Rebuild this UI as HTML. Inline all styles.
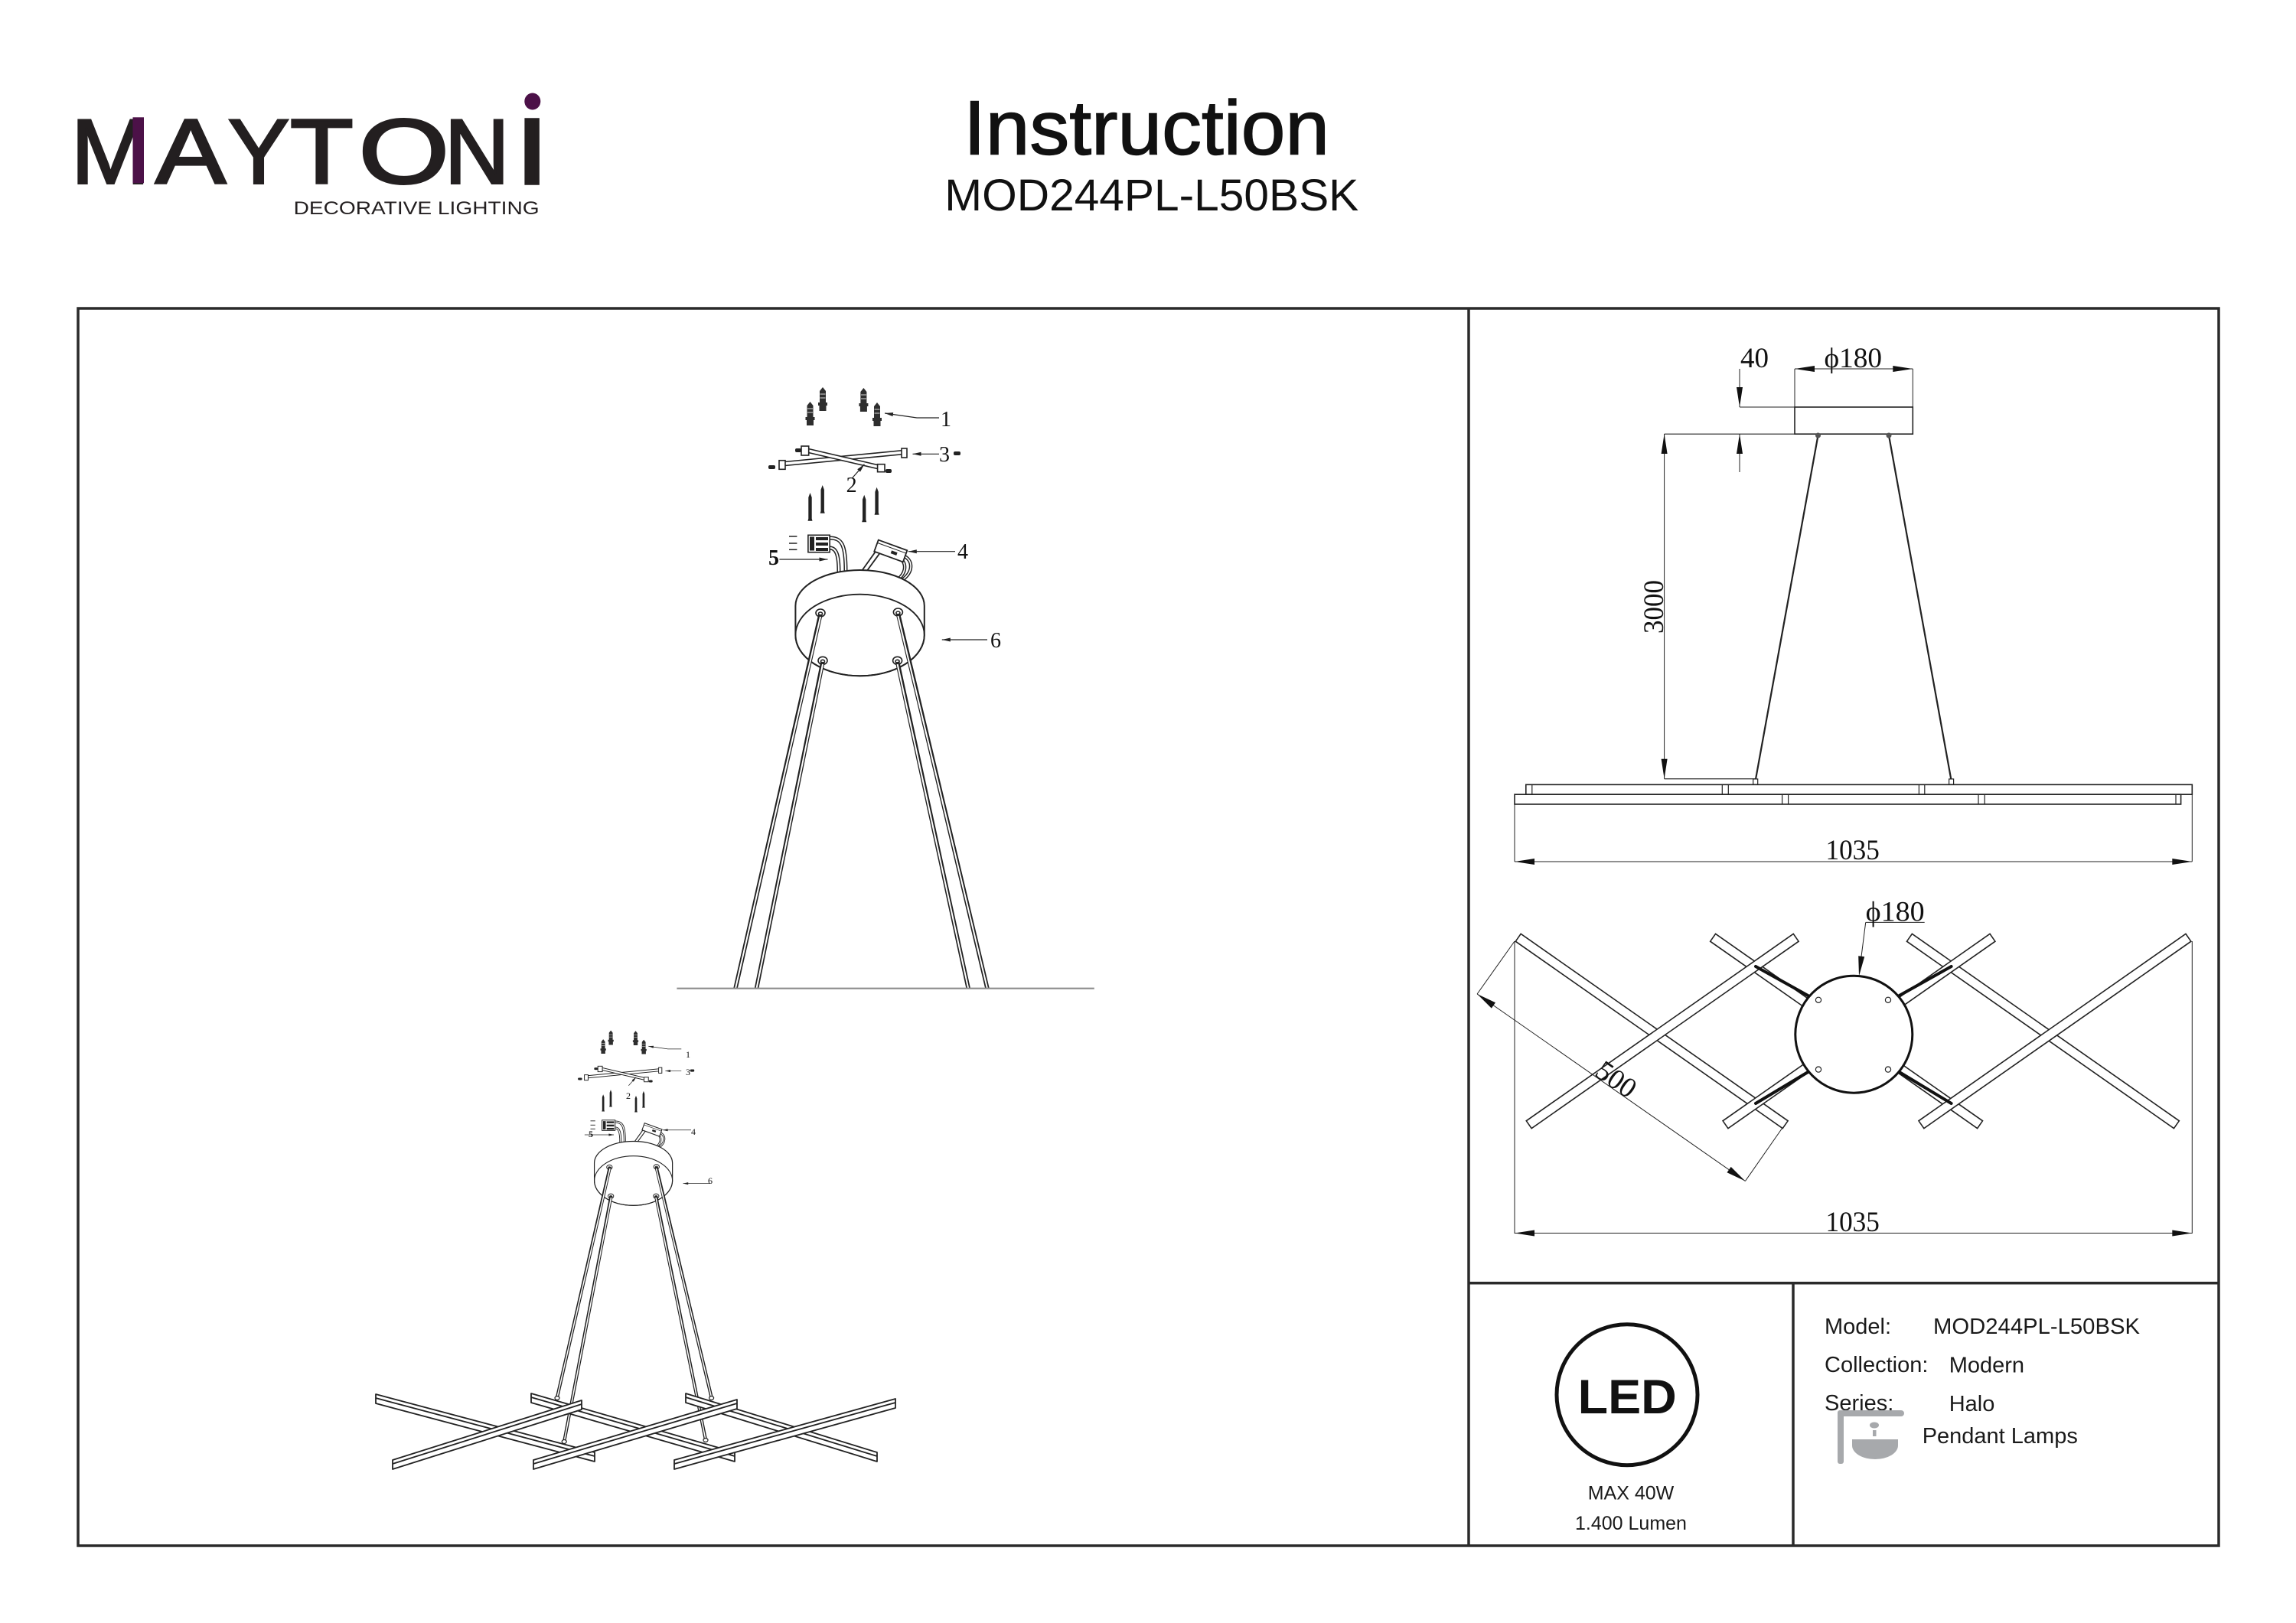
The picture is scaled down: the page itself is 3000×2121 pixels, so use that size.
<!DOCTYPE html>
<html>
<head>
<meta charset="utf-8">
<style>
html,body{margin:0;padding:0;background:#fff;}
svg{display:block;}
</style>
</head>
<body>
<svg xmlns="http://www.w3.org/2000/svg" width="3000" height="2121" viewBox="0 0 3000 2121">
<rect x="0" y="0" width="3000" height="2121" fill="#fff"/>

<!-- ============ HEADER / LOGO ============ -->
<g font-family="'Liberation Sans', Arial, sans-serif" fill="#231f20" stroke="#231f20" stroke-width="3" font-size="120">
  <text transform="translate(144.2,239.3) scale(1.03,1)" text-anchor="middle">M</text>
  <text transform="translate(249.1,239.3) scale(1.15,1)" text-anchor="middle">A</text>
  <text transform="translate(338,239.3) scale(1.0,1)" text-anchor="middle">Y</text>
  <text transform="translate(420.4,239.3) scale(1.13,1)" text-anchor="middle">T</text>
  <text transform="translate(527.8,239.3) scale(1.27,1)" text-anchor="middle">O</text>
  <text transform="translate(623.2,239.3) scale(0.98,1)" text-anchor="middle">N</text>
  <text transform="translate(695.1,239.3) scale(1.2,1)" text-anchor="middle" stroke-width="5">I</text>
</g>
<rect x="173.5" y="153.3" width="14.5" height="86" fill="#4c1148"/>
<ellipse cx="695.8" cy="132.5" rx="10.5" ry="11" fill="#4c1148"/>
<text x="383.6" y="280" font-family="'Liberation Sans', Arial, sans-serif" font-size="24" fill="#231f20" textLength="321" lengthAdjust="spacingAndGlyphs">DECORATIVE LIGHTING</text>

<text x="1498" y="201.7" text-anchor="middle" font-family="'Liberation Sans', Arial, sans-serif" font-size="100" fill="#111" stroke="#111" stroke-width="1.5" textLength="478" lengthAdjust="spacingAndGlyphs">Instruction</text>
<text x="1504.8" y="275" text-anchor="middle" font-family="'Liberation Sans', Arial, sans-serif" font-size="58" fill="#111" textLength="541" lengthAdjust="spacingAndGlyphs">MOD244PL-L50BSK</text>

<!-- ============ FRAME ============ -->
<g stroke="#2a2a2a" stroke-width="3.5" fill="none">
  <rect x="102" y="403" width="2797" height="1617"/>
  <line x1="1919" y1="403" x2="1919" y2="2020"/>
  <line x1="1919" y1="1676.7" x2="2899" y2="1676.7"/>
  <line x1="2343" y1="1676.7" x2="2343" y2="2020"/>
</g>

<!-- ============ ASSEMBLY (top-left) ============ -->
<defs>
<g id="assy">
  <!-- wall anchors -->
  <g fill="#2e2e2e">
    <path d="M1058.5 525 L1062.5 530 L1062.5 545 L1064.5 545 L1064.5 549 L1063 549 L1063 556 L1054 556 L1054 549 L1052.5 549 L1052.5 545 L1054.5 545 L1054.5 530 Z"/>
    <path d="M1075 506 L1079 511 L1079 526 L1081 526 L1081 530 L1079.5 530 L1079.5 537 L1070.5 537 L1070.5 530 L1069 530 L1069 526 L1071 526 L1071 511 Z"/>
    <path d="M1128.4 507 L1132.4 512 L1132.4 527 L1134.4 527 L1134.4 531 L1132.9 531 L1132.9 538 L1123.9 538 L1123.9 531 L1122.4 531 L1122.4 527 L1124.4 527 L1124.4 512 Z"/>
    <path d="M1146 526 L1150 531 L1150 546 L1152 546 L1152 550 L1150.5 550 L1150.5 557 L1141.5 557 L1141.5 550 L1140 550 L1140 546 L1142 546 L1142 531 Z"/>
  </g>
  <g stroke="#fff" stroke-width="0.8">
    <line x1="1055" y1="534" x2="1062" y2="534"/><line x1="1055" y1="539" x2="1062" y2="539"/>
    <line x1="1071.5" y1="515" x2="1078.5" y2="515"/><line x1="1071.5" y1="520" x2="1078.5" y2="520"/>
    <line x1="1125" y1="516" x2="1132" y2="516"/><line x1="1125" y1="521" x2="1132" y2="521"/>
    <line x1="1142.5" y1="535" x2="1149.5" y2="535"/><line x1="1142.5" y1="540" x2="1149.5" y2="540"/>
  </g>
  <!-- bracket -->
  <g stroke="#222" stroke-width="1.6" fill="#fff">
    <polygon points="1020,604 1181,588.5 1181,593.5 1020,609"/>
    <polygon points="1050,585 1155,609.5 1155,614.5 1050,590"/>
    <rect x="1018" y="601.7" width="8" height="11.6"/>
    <rect x="1178" y="586" width="7" height="12"/>
    <rect x="1047" y="583" width="9.7" height="12"/>
    <rect x="1146.6" y="606.7" width="9.4" height="10"/>
  </g>
  <g fill="#222">
    <rect x="1004" y="608" width="9" height="5" rx="2"/>
    <rect x="1039" y="586" width="8" height="5" rx="2"/>
    <rect x="1157" y="613" width="8" height="5" rx="2"/>
    <rect x="1246" y="590" width="9" height="5" rx="2"/>
    <circle cx="1022" cy="607" r="1.3" fill="#fff"/>
  </g>
  <!-- long screws -->
  <g fill="#222">
    <polygon points="1058.5,644 1060.7,650 1060.7,677.7 1061.5,680.7 1055.5,680.7 1056.3,677.7 1056.3,650"/>
    <polygon points="1074.7,634 1076.9,640 1076.9,667.7 1077.7,670.7 1071.7,670.7 1072.5,667.7 1072.5,640"/>
    <polygon points="1129.2,646.7 1131.4,652.7 1131.4,679.3 1132.2,682.3 1126.2,682.3 1127,679.3 1127,652.7"/>
    <polygon points="1145.6,636.7 1147.8,642.7 1147.8,669.7 1148.6,672.7 1142.6,672.7 1143.4,669.7 1143.4,642.7"/>
  </g>
  <!-- connector 5 -->
  <g stroke="#222" stroke-width="1.5">
    <line x1="1031" y1="701" x2="1041.4" y2="701"/>
    <line x1="1031" y1="710" x2="1041.4" y2="710"/>
    <line x1="1031" y1="718.3" x2="1041.4" y2="718.3"/>
  </g>
  <g fill="none" stroke-linecap="round">
    <path d="M1084 703 C1100 703 1105 712 1105 746" stroke="#222" stroke-width="5"/>
    <path d="M1084 703 C1100 703 1105 712 1105 746" stroke="#fff" stroke-width="2"/>
    <path d="M1084 716 C1093 716 1096 726 1096 747" stroke="#222" stroke-width="5"/>
    <path d="M1084 716 C1093 716 1096 726 1096 747" stroke="#fff" stroke-width="2"/>
  </g>
  <rect x="1055.9" y="699.3" width="28.3" height="22.4" fill="#fff" stroke="#222" stroke-width="1.6"/>
  <g fill="#222">
    <rect x="1058" y="701.5" width="6" height="18"/>
    <rect x="1066" y="702" width="16" height="4"/>
    <rect x="1066" y="709" width="16" height="4"/>
    <rect x="1066" y="716" width="16" height="4"/>
  </g>
  <!-- terminal 4 -->
  <path d="M1146 718 L1126 746 M1151 721 L1132 747" stroke="#222" stroke-width="1.8" fill="none"/>
  <g fill="none" stroke-linecap="round">
    <path d="M1182 727 C1194 734 1192 748 1180 757" stroke="#222" stroke-width="4.5"/>
    <path d="M1182 727 C1194 734 1192 748 1180 757" stroke="#fff" stroke-width="1.6"/>
    <path d="M1176 729 C1186 738 1183 750 1172 758" stroke="#222" stroke-width="4.5"/>
    <path d="M1176 729 C1186 738 1183 750 1172 758" stroke="#fff" stroke-width="1.6"/>
  </g>
  <g transform="translate(1163.8,720) rotate(20)">
    <rect x="-20" y="-8" width="40" height="16" fill="#fff" stroke="#222" stroke-width="1.8"/>
    <line x1="-20" y1="-4" x2="20" y2="-4" stroke="#222" stroke-width="1"/>
    <rect x="1" y="-1" width="8" height="4" fill="#222"/>
  </g>
  <!-- canopy -->
  <path d="M1039.4 791.7 A84.2 46.7 0 0 1 1207.8 791.7 L1207.8 830 A84.2 53.3 0 0 1 1039.4 830 Z" fill="#fff" stroke="#222" stroke-width="2"/>
  <ellipse cx="1123.6" cy="830" rx="84.2" ry="53.3" fill="none" stroke="#222" stroke-width="1.8"/>
  <g fill="#fff" stroke="#222" stroke-width="1.6">
    <ellipse cx="1072" cy="801" rx="6" ry="5"/>
    <ellipse cx="1173.4" cy="800" rx="6" ry="5"/>
    <ellipse cx="1075" cy="863.3" rx="6" ry="5"/>
    <ellipse cx="1172.6" cy="863.3" rx="6" ry="5"/>
    <ellipse cx="1072" cy="802" rx="2.5" ry="2"/>
    <ellipse cx="1173.4" cy="801" rx="2.5" ry="2"/>
    <ellipse cx="1075" cy="864.3" rx="2.5" ry="2"/>
    <ellipse cx="1172.6" cy="864.3" rx="2.5" ry="2"/>
  </g>
  <!-- leaders -->
  <g stroke="#222" stroke-width="1.2" fill="none">
    <polyline points="1156,540 1198,546 1227,546"/>
    <line x1="1192.5" y1="593.3" x2="1227" y2="593.3"/>
    <line x1="1113.3" y1="625" x2="1129.4" y2="606.7"/>
    <line x1="1018.4" y1="731" x2="1081.5" y2="731"/>
    <line x1="1186.8" y1="720.7" x2="1248" y2="720.7"/>
    <line x1="1290" y1="836" x2="1230.8" y2="836"/>
  </g>
  <g fill="#222">
    <polygon points="1156,540 1166.5,544.1 1167.2,539.1"/>
    <polygon points="1192.5,593.3 1203.5,590.8 1203.5,595.8"/>
    <polygon points="1129.4,606.7 1124,616.6 1120.2,613.3"/>
    <polygon points="1081.5,731 1070.5,728.5 1070.5,733.5"/>
    <polygon points="1186.8,720.7 1197.8,718.2 1197.8,723.2"/>
    <polygon points="1230.8,836 1241.8,833.5 1241.8,838.5"/>
  </g>
</g>
</defs>

<use href="#assy"/>
<!-- cables top diagram -->
<g stroke-linecap="butt">
  <g stroke="#222" stroke-width="5.5">
    <line x1="1072" y1="803" x2="961" y2="1291.7"/>
    <line x1="1075" y1="865" x2="988.5" y2="1291.7"/>
    <line x1="1173.4" y1="802" x2="1290" y2="1291.7"/>
    <line x1="1172.6" y1="865" x2="1265.2" y2="1291.7"/>
  </g>
  <g stroke="#fff" stroke-width="2">
    <line x1="1072" y1="806" x2="961" y2="1291.7"/>
    <line x1="1075" y1="868" x2="988.5" y2="1291.7"/>
    <line x1="1173.4" y1="805" x2="1290" y2="1291.7"/>
    <line x1="1172.6" y1="868" x2="1265.2" y2="1291.7"/>
  </g>
</g>
<line x1="884.4" y1="1291.7" x2="1429.8" y2="1291.7" stroke="#8c8c8c" stroke-width="2.2"/>
<g font-family="'Liberation Serif', 'Times New Roman', serif" font-size="28" fill="#111">
  <text x="1229" y="557">1</text>
  <text x="1227" y="603">3</text>
  <text x="1105.6" y="643">2</text>
  <text x="1251" y="730">4</text>
  <text x="1004" y="738" font-weight="bold">5</text>
  <text x="1294" y="846">6</text>
</g>

<!-- ============ ASSEMBLED (bottom-left) ============ -->
<use href="#assy" transform="translate(827.6,1543) scale(0.606) translate(-1123.6,-830)"/>
<g font-family="'Liberation Serif', 'Times New Roman', serif" font-size="12" fill="#111">
  <text x="896" y="1382">1</text>
  <text x="896" y="1405">3</text>
  <text x="818" y="1436">2</text>
  <text x="769" y="1486" font-weight="bold">5</text>
  <text x="903" y="1483">4</text>
  <text x="925" y="1547">6</text>
</g>
<g>
  <g stroke="#222" stroke-width="4.2">
    <line x1="797" y1="1525" x2="728" y2="1826"/>
    <line x1="798.5" y1="1563" x2="737.2" y2="1883.6"/>
    <line x1="857.5" y1="1525" x2="929.6" y2="1826"/>
    <line x1="857" y1="1563" x2="922" y2="1881.6"/>
  </g>
  <g stroke="#fff" stroke-width="1.5">
    <line x1="797" y1="1527" x2="728" y2="1826"/>
    <line x1="798.5" y1="1565" x2="737.2" y2="1883.6"/>
    <line x1="857.5" y1="1527" x2="929.6" y2="1826"/>
    <line x1="857" y1="1565" x2="922" y2="1881.6"/>
  </g>
</g>
<g fill="#fff" stroke="#222" stroke-width="1.8" stroke-linejoin="round">
  <!-- "\" bars -->
  <polygon points="491,1822 777,1898 777,1910 491,1834"/>
  <line x1="491" y1="1827" x2="777" y2="1903"/>
  <polygon points="694,1821 960,1898 960,1910 694,1833"/>
  <line x1="694" y1="1826" x2="960" y2="1903"/>
  <polygon points="896,1821 1146,1898 1146,1910 896,1833"/>
  <line x1="896" y1="1826" x2="1146" y2="1903"/>
  <!-- "/" bars -->
  <polygon points="513,1908 760,1830 760,1842 513,1920"/>
  <line x1="513" y1="1913" x2="760" y2="1835"/>
  <polygon points="697,1908 963,1829 963,1841 697,1920"/>
  <line x1="697" y1="1913" x2="963" y2="1834"/>
  <polygon points="881,1908 1170,1828 1170,1840 881,1920"/>
  <line x1="881" y1="1913" x2="1170" y2="1833"/>
</g>
<g fill="#fff" stroke="#222" stroke-width="1.2">
  <ellipse cx="728" cy="1827" rx="3" ry="2.5"/>
  <ellipse cx="929.6" cy="1827" rx="3" ry="2.5"/>
  <ellipse cx="737.2" cy="1884" rx="3" ry="2.5"/>
  <ellipse cx="922" cy="1882" rx="3" ry="2.5"/>
</g>

<!-- ============ ELEVATION VIEW (top-right) ============ -->
<g stroke="#222" fill="none">
  <rect x="2345" y="532" width="154.3" height="35.2" stroke-width="1.6"/>
  <line x1="2345" y1="482" x2="2345" y2="532" stroke-width="1"/>
  <line x1="2499.3" y1="482" x2="2499.3" y2="532" stroke-width="1"/>
  <line x1="2345" y1="482" x2="2499.3" y2="482" stroke-width="1"/>
  <line x1="2273" y1="532" x2="2345" y2="532" stroke-width="1"/>
  <line x1="2174.6" y1="567.2" x2="2345" y2="567.2" stroke-width="1.2"/>
  <line x1="2273" y1="482" x2="2273" y2="532" stroke-width="1"/>
  <line x1="2273" y1="567" x2="2273" y2="617" stroke-width="1"/>
  <line x1="2174.6" y1="567" x2="2174.6" y2="1017.8" stroke-width="1"/>
  <line x1="2174.6" y1="1017.8" x2="2295" y2="1017.8" stroke-width="1.2"/>
  <!-- cables -->
  <line x1="2375.5" y1="569" x2="2293.7" y2="1020" stroke-width="2.2"/>
  <line x1="2468" y1="569" x2="2549.6" y2="1020" stroke-width="2.2"/>
  <rect x="2290.7" y="1018" width="6" height="7.4" stroke-width="1.2" fill="#fff"/>
  <rect x="2546.6" y="1018" width="6" height="7.4" stroke-width="1.2" fill="#fff"/>
  <!-- bars -->
  <rect x="1993.8" y="1025.4" width="870.5" height="12.8" stroke-width="1.6"/>
  <rect x="1979" y="1038.2" width="870.6" height="12.8" stroke-width="1.6"/>
  <g stroke-width="1.2">
    <line x1="2001.8" y1="1025.4" x2="2001.8" y2="1038.2"/>
    <line x1="2250.3" y1="1025.4" x2="2250.3" y2="1038.2"/>
    <line x1="2258.3" y1="1025.4" x2="2258.3" y2="1038.2"/>
    <line x1="2507.4" y1="1025.4" x2="2507.4" y2="1038.2"/>
    <line x1="2514.8" y1="1025.4" x2="2514.8" y2="1038.2"/>
    <line x1="2328.6" y1="1038.2" x2="2328.6" y2="1051"/>
    <line x1="2336.6" y1="1038.2" x2="2336.6" y2="1051"/>
    <line x1="2585" y1="1038.2" x2="2585" y2="1051"/>
    <line x1="2593.2" y1="1038.2" x2="2593.2" y2="1051"/>
    <line x1="2843" y1="1038.2" x2="2843" y2="1051"/>
  </g>
  <!-- 1035 dim -->
  <line x1="1979" y1="1051" x2="1979" y2="1126" stroke-width="1"/>
  <line x1="2864.3" y1="1038" x2="2864.3" y2="1126" stroke-width="1"/>
  <line x1="1979" y1="1126" x2="2864.3" y2="1126" stroke-width="1"/>
</g>
<g fill="#555">
  <circle cx="2375.5" cy="569" r="3.5"/>
  <circle cx="2468" cy="569" r="3.5"/>
</g>
<g fill="#111">
  <polygon points="2345,482 2371,478 2371,486"/>
  <polygon points="2499.3,482 2473.3,478 2473.3,486"/>
  <polygon points="2273,532 2269,506 2277,506"/>
  <polygon points="2273,567 2269,593 2277,593"/>
  <polygon points="2174.6,567 2170.6,593 2178.6,593"/>
  <polygon points="2174.6,1017.8 2170.6,991.8 2178.6,991.8"/>
  <polygon points="1979,1126 2005,1122 2005,1130"/>
  <polygon points="2864.3,1126 2838.3,1122 2838.3,1130"/>
</g>
<g font-family="'Liberation Serif', 'Times New Roman', serif" font-size="37" fill="#111">
  <text x="2274" y="480">40</text>
  <text x="2383.5" y="480" textLength="75.5" lengthAdjust="spacingAndGlyphs">ϕ180</text>
  <text transform="translate(2173,793) rotate(-90)" text-anchor="middle" textLength="70" lengthAdjust="spacingAndGlyphs">3000</text>
  <text x="2385.5" y="1123" textLength="70.3" lengthAdjust="spacingAndGlyphs">1035</text>
</g>

<!-- ============ PLAN VIEW ============ -->
<g fill="#fff" stroke="#222" stroke-width="1.6">
  <rect x="-213" y="-6" width="426" height="12" transform="translate(2158.2,1347.5) rotate(35)"/>
  <rect x="-213" y="-6" width="426" height="12" transform="translate(2412.6,1347.5) rotate(35)"/>
  <rect x="-213" y="-6" width="426" height="12" transform="translate(2669.4,1347.5) rotate(35)"/>
  <rect x="-213" y="-6" width="426" height="12" transform="translate(2172.2,1347.5) rotate(-35)"/>
  <rect x="-213" y="-6" width="426" height="12" transform="translate(2429,1347.5) rotate(-35)"/>
  <rect x="-213" y="-6" width="426" height="12" transform="translate(2684.9,1347.5) rotate(-35)"/>
</g>
<g stroke="#111" stroke-width="4" stroke-linecap="round">
  <line x1="2364" y1="1302" x2="2294" y2="1263"/>
  <line x1="2480" y1="1302" x2="2549.6" y2="1263"/>
  <line x1="2364" y1="1400" x2="2294" y2="1442"/>
  <line x1="2480" y1="1400" x2="2549.6" y2="1442"/>
</g>
<circle cx="2422.3" cy="1351.7" r="76.5" fill="#fff" stroke="#111" stroke-width="3"/>
<g fill="#fff" stroke="#222" stroke-width="1.2">
  <circle cx="2376" cy="1306.8" r="3.6"/>
  <circle cx="2467" cy="1306.8" r="3.6"/>
  <circle cx="2376" cy="1397.6" r="3.6"/>
  <circle cx="2467" cy="1397.6" r="3.6"/>
</g>
<g stroke="#222" stroke-width="1" fill="none">
  <line x1="2437.7" y1="1205.4" x2="2514.7" y2="1205.4"/>
  <line x1="2437.7" y1="1205.4" x2="2430.5" y2="1262"/>
  <line x1="1979" y1="1230" x2="1979" y2="1612"/>
  <line x1="2864.3" y1="1230" x2="2864.3" y2="1612"/>
  <line x1="1979" y1="1611.5" x2="2864.3" y2="1611.5"/>
  <line x1="1930.1" y1="1299" x2="2280.4" y2="1543.5"/>
  <line x1="1930.1" y1="1299" x2="1979" y2="1230"/>
  <line x1="2280.4" y1="1543.5" x2="2328.6" y2="1474.4"/>
</g>
<g fill="#111">
  <polygon points="2429,1275.6 2436.2,1250.3 2428.2,1249.3"/>
  <polygon points="1979,1611.5 2005,1607.5 2005,1615.5"/>
  <polygon points="2864.3,1611.5 2838.3,1607.5 2838.3,1615.5"/>
  <polygon points="1930.1,1299 1948.8,1317.6 1954,1310.2"/>
  <polygon points="2280.4,1543.5 2256.5,1532.3 2261.7,1524.9"/>
</g>
<g font-family="'Liberation Serif', 'Times New Roman', serif" font-size="37" fill="#111">
  <text x="2437.7" y="1203.5" textLength="77" lengthAdjust="spacingAndGlyphs">ϕ180</text>
  <text x="2385.5" y="1609" textLength="70.3" lengthAdjust="spacingAndGlyphs">1035</text>
  <text transform="translate(2104.8,1420.5) rotate(35)" text-anchor="middle">500</text>
</g>

<!-- ============ INFO BOX ============ -->
<circle cx="2126" cy="1822.7" r="92" fill="none" stroke="#111" stroke-width="5"/>
<text x="2126.2" y="1847" text-anchor="middle" font-family="'Liberation Sans', Arial, sans-serif" font-weight="bold" font-size="63" fill="#111" textLength="129" lengthAdjust="spacingAndGlyphs">LED</text>
<g font-family="'Liberation Sans', Arial, sans-serif" font-size="25" fill="#1a1a1a" text-anchor="middle">
  <text x="2131" y="1959.3">MAX 40W</text>
  <text x="2131" y="1999">1.400 Lumen</text>
</g>
<g font-family="'Liberation Sans', Arial, sans-serif" font-size="29" fill="#1a1a1a">
  <text x="2384" y="1743">Model:</text>
  <text x="2526" y="1743" textLength="270" lengthAdjust="spacingAndGlyphs">MOD244PL-L50BSK</text>
  <text x="2384" y="1793">Collection:</text>
  <text x="2546.7" y="1793.3">Modern</text>
  <text x="2384" y="1843">Series:</text>
  <text x="2546.7" y="1844">Halo</text>
  <text x="2511.7" y="1886">Pendant Lamps</text>
</g>
<g fill="#a7a9ac">
  <rect x="2401" y="1843" width="8" height="70" rx="3"/>
  <rect x="2401" y="1843" width="87" height="8" rx="4"/>
  <ellipse cx="2449" cy="1862.5" rx="6" ry="4"/>
  <rect x="2447" y="1869" width="4.5" height="8"/>
  <path d="M2420 1881 L2480 1881 L2480 1889 A30 18 0 0 1 2420 1889 Z"/>
</g>
</svg>
</body>
</html>
